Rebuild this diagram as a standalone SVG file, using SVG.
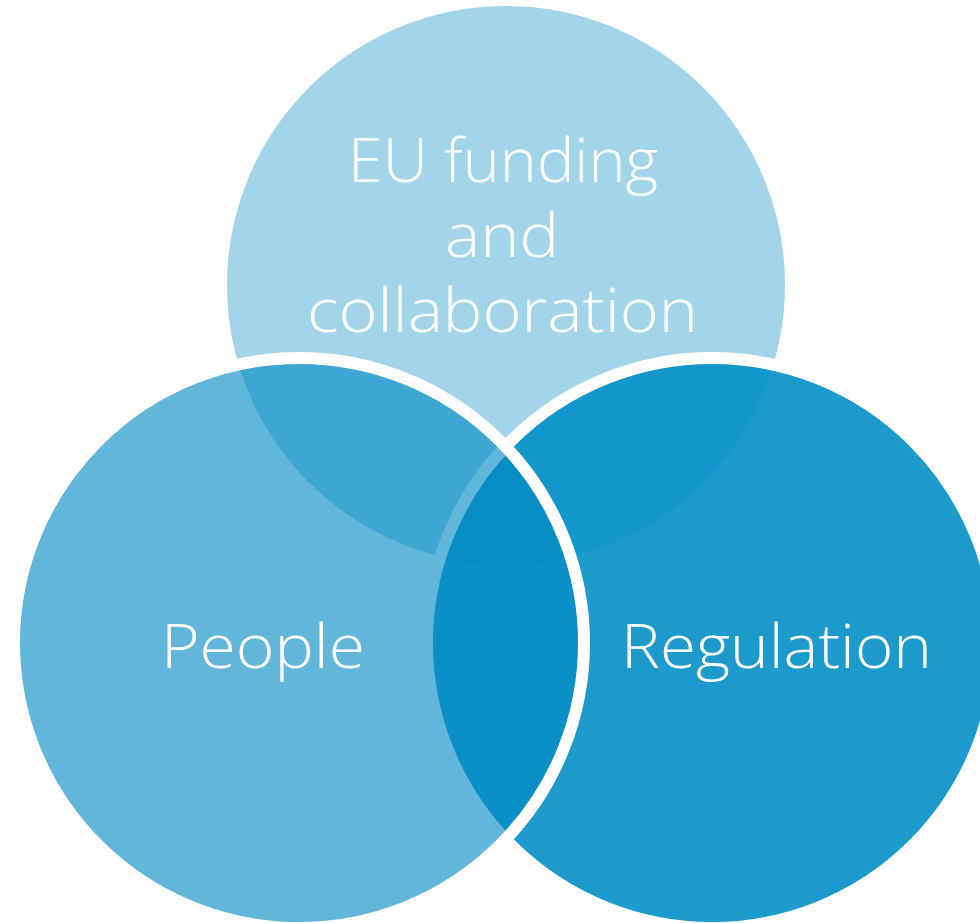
<svg xmlns="http://www.w3.org/2000/svg" width="980" height="923" viewBox="0 0 980 923">
  <style>
    .ring { stroke: #FFFFFF; stroke-width: 12; }
    .label { font-family: "Century Gothic", "Open Sans", "Liberation Sans", sans-serif; font-weight: 300; font-size: 60px; fill: #FFFFFF; text-anchor: middle; }
  </style>
  <rect x="0" y="0" width="980" height="923" fill="#FFFFFF"/>
  <g id="node-eu-funding">
    <circle class="ring" cx="506" cy="285" r="285" fill="#A2D5E9"/>
  </g>
  <g id="node-regulation">
    <circle class="ring" cx="712" cy="643" r="285" fill="rgb(3,143,197)" fill-opacity="0.9"/>
  </g>
  <g id="node-people">
    <circle class="ring" cx="299" cy="643" r="285" fill="rgb(0,136,195)" fill-opacity="0.615"/>
  </g>
  <g id="labels">
    <text class="label" x="503" y="182" textLength="310" lengthAdjust="spacingAndGlyphs">EU funding</text>
    <text class="label" x="502" y="257" textLength="114" lengthAdjust="spacingAndGlyphs">and</text>
    <text class="label" x="502.5" y="332" textLength="391" lengthAdjust="spacingAndGlyphs">collaboration</text>
    <text class="label" x="263" y="668" textLength="204" lengthAdjust="spacingAndGlyphs">People</text>
    <text class="label" x="776.5" y="668" textLength="311" lengthAdjust="spacingAndGlyphs">Regulation</text>
  </g>
</svg>
